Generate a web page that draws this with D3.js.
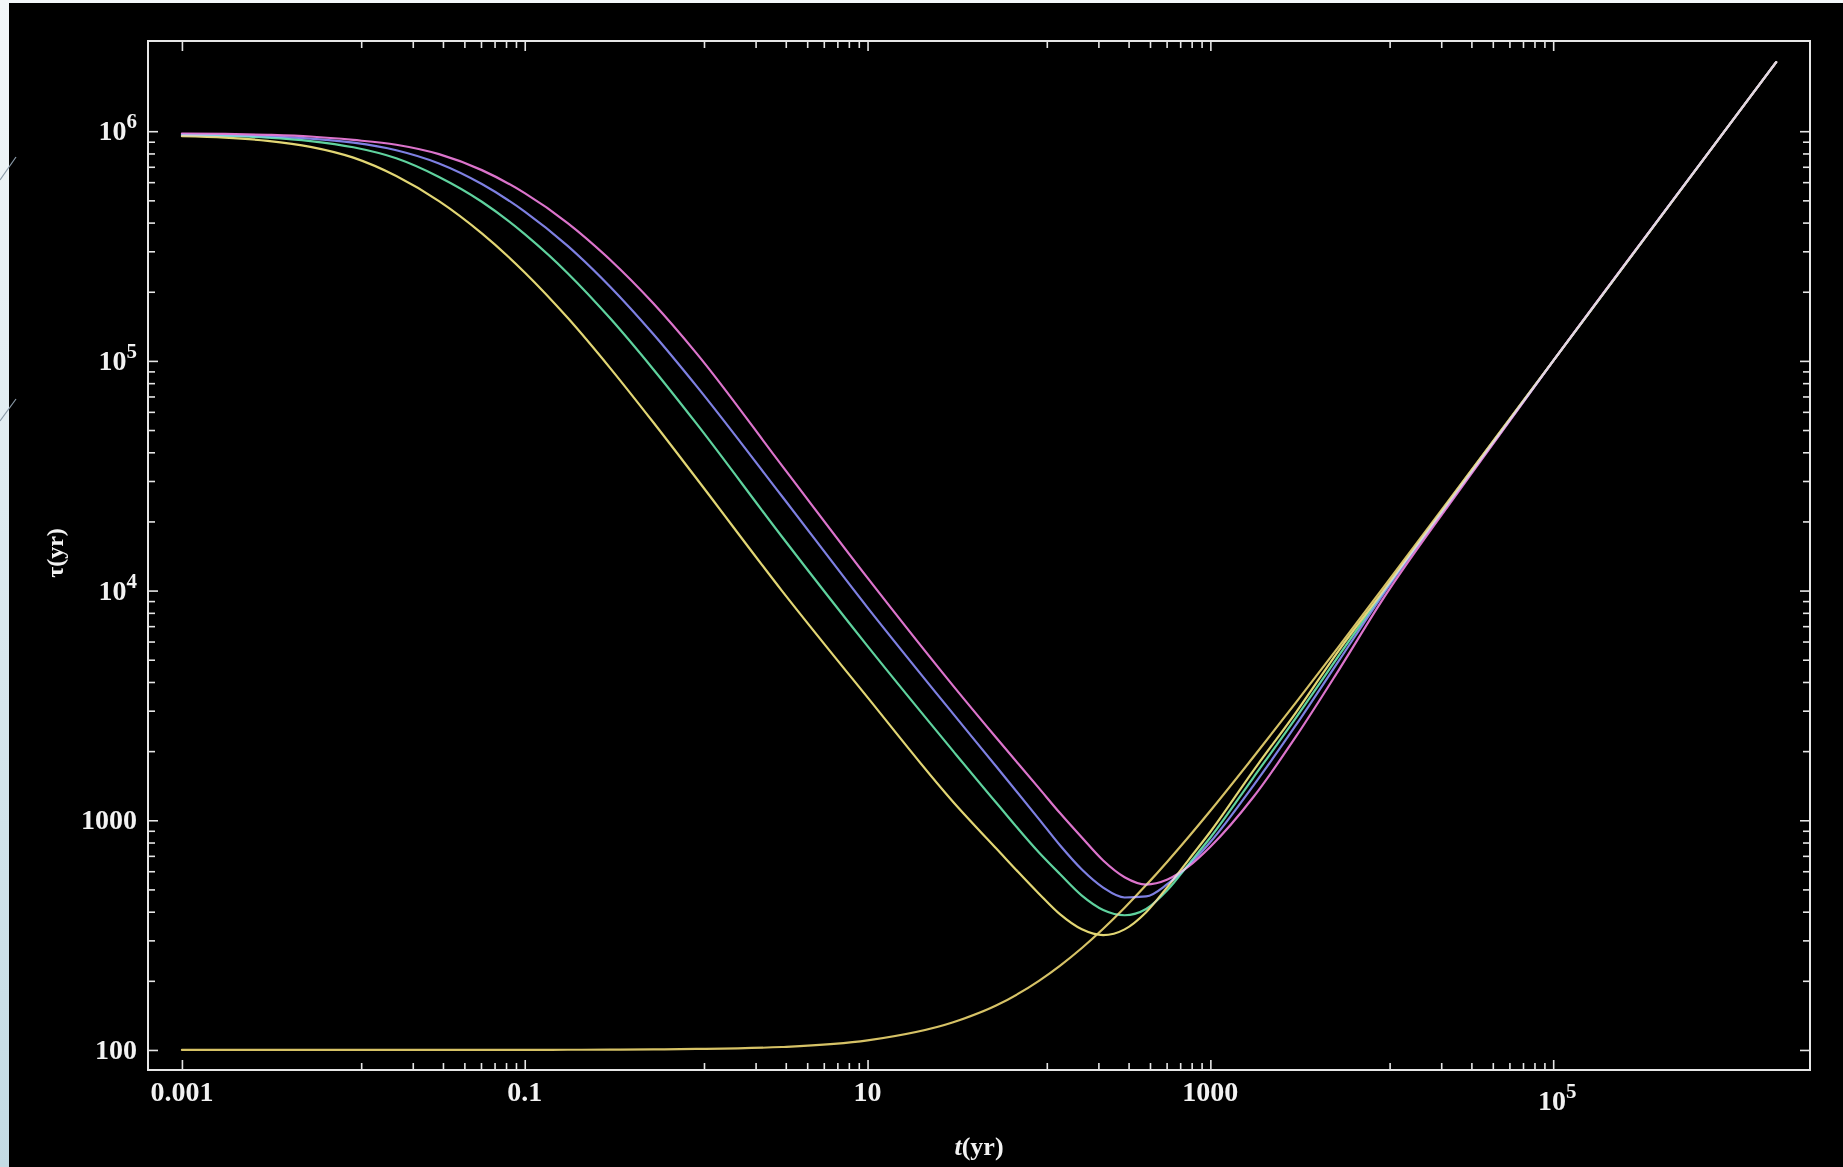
<!DOCTYPE html>
<html><head><meta charset="utf-8">
<script src="https://cdn.jsdelivr.net/npm/d3@7"></script>
<style>
html,body{margin:0;padding:0;background:#000;}
svg{display:block;}
</style></head><body>
<svg id="chart" width="1843" height="1167"></svg>
<script>
// ---- data ----
const tValues = [0.001, 0.00178, 0.00316, 0.00562, 0.01, 0.0178, 0.0316, 0.0562, 0.1, 0.178, 0.316, 0.562, 1, 3.16, 10, 31.6, 56.2, 100, 133, 178, 237, 316, 422, 562, 750, 1000, 1778, 3162, 5623, 10000, 31623, 100000, 1000000, 2000000];
const tauPink   = [977000, 973000, 964000, 948000, 916000, 873000, 794300, 676900, 537400, 398300, 275000, 178100, 108400, 35080, 11350, 3846, 2291, 1380, 1072, 841, 668, 565, 525, 552, 631, 767, 1259, 2317, 4519, 9016, 30550, 100000, 1000000, 2000000];
const tauBlue   = [968000, 959000, 948000, 929000, 891000, 826000, 723400, 588700, 446900, 316700, 209800, 130900, 78050, 25800, 8433, 2904, 1718, 1012, 776, 610, 509, 461, 466, 528, 638, 804, 1413, 2600, 4955, 9441, 30900, 100000, 1000000, 2000000];
const tauGreen  = [959000, 953000, 937000, 906000, 851000, 762000, 632000, 493100, 356700, 240900, 152800, 91970, 53550, 17190, 5728, 2000, 1194, 724, 582, 470, 407, 386, 411, 497, 646, 841, 1531, 2799, 5224, 9661, 31260, 100000, 1000000, 2000000];
const tauYellow = [951000, 938000, 908000, 855000, 767000, 638000, 496000, 358900, 242700, 154000, 92800, 54030, 30900, 10000, 3428, 1202, 755, 479, 389, 335, 316, 335, 398, 513, 676, 891, 1641, 2951, 5495, 9772, 31600, 100000, 1000000, 2000000];
const tauLower  = [100, 100, 100, 100, 100, 100, 100, 100.1, 100.1, 100.2, 100.3, 100.6, 101, 103, 110, 132, 156, 200, 233, 278, 337, 416, 522, 662, 850, 1100, 1880, 3260, 5720, 10100, 31700, 100100, 1000100, 2000100];

const seriesList   = [tauPink, tauBlue, tauGreen, tauYellow, tauLower];
const seriesColors = ["#dc74cc", "#7e80e2", "#5fd29e", "#e2d674", "#d6c266"];

const xMajorTicks = [0.001, 0.1, 10, 1000, 100000];
const xTickBase   = ["0.001", "0.1", "10", "1000", "10"];
const xTickSup    = ["", "", "", "", "5"];
const yMajorTicks = [100, 1000, 10000, 100000, 1000000];
const yTickBase   = ["100", "1000", "10", "10", "10"];
const yTickSup    = ["", "", "4", "5", "6"];
const xLabel = ["t", "(yr)"];
const yLabel = "τ(yr)";

// ---- layout ----
const W = 1843, H = 1167;
const L = 148, R = 1810, T = 41, B = 1070;
const svg = d3.select("#chart");

const x = d3.scaleLog().domain([6.34e-4, 3.15e6]).range([L, R]);
const y = d3.scaleLog().domain([81.8, 2.47e6]).range([B, T]);

// background: light strip on the left like the slide, black chart area
const defs = svg.append("defs");
const grad = defs.append("linearGradient").attr("id","strip").attr("x1",0).attr("y1",0).attr("x2",0).attr("y2",1);
grad.append("stop").attr("offset","0%").attr("stop-color","#f3f7f9");
grad.append("stop").attr("offset","100%").attr("stop-color","#c3dbe4");
svg.append("rect").attr("x",0).attr("y",0).attr("width",W).attr("height",H).attr("fill","url(#strip)");
svg.append("rect").attr("x",9).attr("y",3).attr("width",W-9).attr("height",H-3).attr("fill","#000");
svg.append("line").attr("x1",0).attr("y1",180).attr("x2",16).attr("y2",157).attr("stroke","#8a9aa8").attr("stroke-width",1.2);
svg.append("line").attr("x1",0).attr("y1",421).attr("x2",16).attr("y2",399).attr("stroke","#8a9aa8").attr("stroke-width",1.2);

// minor ticks
const xMinor = [];
for (let i = 0; i < xMajorTicks.length - 1; i++) {
  const hi = xMajorTicks[i + 1];
  for (let k = 1; k <= 8; k++) xMinor.push(hi * k / 9);
}
const yMinor = [];
for (let i = 0; i < yMajorTicks.length - 1; i++) {
  for (let k = 2; k <= 9; k++) yMinor.push(yMajorTicks[i] * k);
}

const tickColor = "#e6e6e6";
function styleAxis(g) {
  g.select(".domain").remove();
  g.selectAll(".tick line").attr("stroke", tickColor).attr("stroke-width", 1.6);
  g.selectAll(".tick text").remove();
}
const axG = svg.append("g");
axG.append("g").attr("transform",`translate(0,${B})`).call(d3.axisBottom(x).tickValues(xMajorTicks).tickSize(-10)).call(styleAxis);
axG.append("g").attr("transform",`translate(0,${B})`).call(d3.axisBottom(x).tickValues(xMinor).tickSize(-7)).call(styleAxis);
axG.append("g").attr("transform",`translate(0,${T})`).call(d3.axisTop(x).tickValues(xMajorTicks).tickSize(-10)).call(styleAxis);
axG.append("g").attr("transform",`translate(0,${T})`).call(d3.axisTop(x).tickValues(xMinor).tickSize(-7)).call(styleAxis);
axG.append("g").attr("transform",`translate(${L},0)`).call(d3.axisLeft(y).tickValues(yMajorTicks).tickSize(-10)).call(styleAxis);
axG.append("g").attr("transform",`translate(${L},0)`).call(d3.axisLeft(y).tickValues(yMinor).tickSize(-7)).call(styleAxis);
axG.append("g").attr("transform",`translate(${R},0)`).call(d3.axisRight(y).tickValues(yMajorTicks).tickSize(-10)).call(styleAxis);
axG.append("g").attr("transform",`translate(${R},0)`).call(d3.axisRight(y).tickValues(yMinor).tickSize(-7)).call(styleAxis);

// frame
svg.append("rect").attr("x",L).attr("y",T).attr("width",R-L).attr("height",B-T)
  .attr("fill","none").attr("stroke",tickColor).attr("stroke-width",2);

// curves
const line = d3.line()
  .x((d,i) => x(tValues[i]))
  .y(d => y(d))
  .curve(d3.curveMonotoneX);
const curveG = svg.append("g").style("isolation","isolate");
seriesList.forEach((s, i) => {
  curveG.append("path").attr("d", line(s)).attr("fill","none")
    .attr("stroke", seriesColors[i]).attr("stroke-width", 2.2)
    .attr("stroke-linejoin","round").attr("stroke-linecap","round")
    .style("mix-blend-mode","lighten");
});

// tick labels
const font = "'Liberation Serif','Times New Roman',serif";
const labG = svg.append("g").attr("fill","#f2f2f2").attr("font-family",font).attr("font-weight","bold");
xMajorTicks.forEach((v, i) => {
  const sup = xTickSup[i];
  const t = labG.append("text").attr("x", x(v) + (sup ? 4 : 0)).attr("y", sup ? 1110 : 1101)
    .attr("text-anchor","middle").attr("font-size",28);
  t.append("tspan").text(xTickBase[i]);
  if (sup) t.append("tspan").attr("dy",-12).attr("font-size",21).text(sup);
});
yMajorTicks.forEach((v, i) => {
  const sup = yTickSup[i];
  const t = labG.append("text").attr("x", 137).attr("y", y(v) + 9)
    .attr("text-anchor","end").attr("font-size",28);
  t.append("tspan").text(yTickBase[i]);
  if (sup) t.append("tspan").attr("dy",-12).attr("font-size",21).text(sup);
});

// axis titles
const xt = labG.append("text").attr("x", 979).attr("y", 1155)
  .attr("text-anchor","middle").attr("font-size",26);
xt.append("tspan").attr("font-style","italic").text(xLabel[0]);
xt.append("tspan").text(xLabel[1]);
labG.append("text").attr("transform","translate(63,553) rotate(-90)")
  .attr("text-anchor","middle").attr("font-size",24).text(yLabel);
</script>
</body></html>
